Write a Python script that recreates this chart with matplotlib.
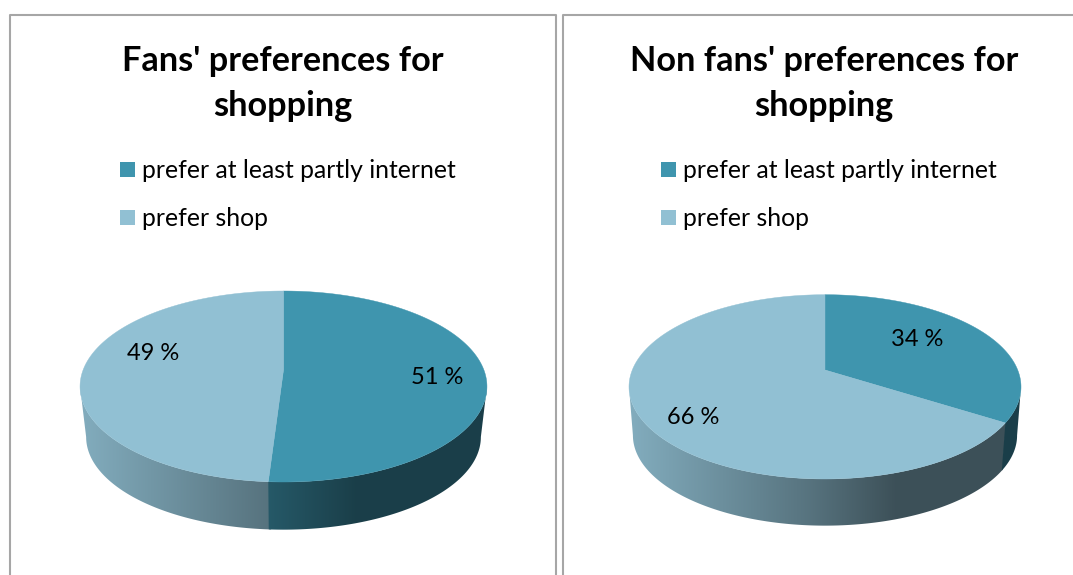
import numpy as np
import matplotlib
matplotlib.use("Agg")
import matplotlib.pyplot as plt
from matplotlib.patches import Polygon, Rectangle

categories = ["prefer at least partly internet", "prefer shop"]
fans_share = [51, 49]
non_fans_share = [34, 66]
fans_title = "Fans' preferences for\nshopping"
non_fans_title = "Non fans' preferences for\nshopping"

DARK = "#3f95ae"
LIGHT = "#91c0d3"
FONT = "Lato"


def disc_point(theta, pie):
    # circle seen in perspective, theta runs clockwise from the far edge
    u, v = np.sin(theta), np.cos(theta)
    w = 1 + pie["k"] * v
    return pie["cx"] + pie["ax"] * u / w, pie["hub_y"] - pie["ay"] * v / w


def wall_point(theta, pie):
    x, y = disc_point(theta, pie)
    s = pie["shrink"]
    return pie["cx"] + (x - pie["cx"]) * s, pie["mid_y"] + (y - pie["mid_y"]) * s + pie["drop"]


def wall_gradient(hex_color):
    # side of the cylinder darkens from left to right
    t = np.linspace(0, 1, 400)
    f = np.interp(t, [0, 0.46, 0.68, 1], [0.9, 0.6, 0.42, 0.42])
    return (np.array(matplotlib.colors.to_rgb(hex_color)) * f[:, None])[None, :, :]


def draw_wall(ax, a0, a1, col, pie):
    # only the front of the side is visible, between the two widest points of the disc
    tangent = np.arccos(-pie["k"])
    a0, a1 = max(a0, tangent), min(a1, 2 * np.pi - tangent)
    thetas = np.linspace(a0, a1, 300)
    xs, ys = disc_point(thetas, pie)
    bx, by = wall_point(thetas, pie)
    outline = Polygon(list(zip(xs, ys)) + list(zip(bx[::-1], by[::-1])), closed=True,
                      facecolor="none", edgecolor="none", transform=ax.transData)
    ax.add_patch(outline)
    im = ax.imshow(wall_gradient(col), extent=(pie["cx"] - pie["rx"], pie["cx"] + pie["rx"], 575, 0),
                   aspect="auto", interpolation="bilinear", zorder=2)
    im.set_clip_path(outline)


def draw_pie(ax, shares, pie):
    edges = np.cumsum([0] + shares) / 100 * 2 * np.pi
    # light wall runs a little under the dark one so no seam shows
    draw_wall(ax, edges[1] - 0.01, edges[2], LIGHT, pie)
    draw_wall(ax, edges[0], edges[1], DARK, pie)
    for a0, a1, col in zip(edges[:-1], edges[1:], [DARK, LIGHT]):
        thetas = np.linspace(a0, a1, 200)
        xs, ys = disc_point(thetas, pie)
        pts = [(pie["cx"], pie["hub_y"])] + list(zip(xs, ys))
        ax.add_patch(Polygon(pts, closed=True, facecolor=col, edgecolor=col, linewidth=0.3, zorder=3))


def draw_panel(ax, title, shares, title_x, legend_x, pie, label_pos):
    ax.text(title_x, 83.5, title, ha="center", va="center", fontsize=24.7, fontweight="bold",
            family=FONT, color="black", linespacing=1.52)
    for name, col, y in zip(categories, [DARK, LIGHT], [162, 210]):
        ax.add_patch(Rectangle((legend_x, y), 14.5, 15, facecolor=col, edgecolor="none"))
        ax.text(legend_x + 22, y + 8, name, ha="left", va="center", fontsize=17.8, family=FONT, color="black")
    draw_pie(ax, shares, pie)
    for value, (x, y) in zip(shares, label_pos):
        ax.text(x, y, f"{value} %", ha="center", va="center", fontsize=17, family=FONT, color="black", zorder=4)


fig = plt.figure(figsize=(10.73, 5.75), dpi=100)
ax = fig.add_axes([0, 0, 1, 1])

# panel frames run off the bottom of the figure
frame = "#a6a6a6"
ax.plot([10, 10, 556, 556], [575, 15, 15, 575], color=frame, lw=1.5)
ax.plot([563, 563, 1073], [575, 15, 15], color=frame, lw=1.5)

left_pie = dict(cx=283.5, rx=203.5, ax=200.4, ay=92.65, k=0.1728, hub_y=370, mid_y=387, shrink=0.97, drop=50.5)
right_pie = dict(cx=825, rx=196, ax=192.7, ay=89.06, k=0.1828, hub_y=370, mid_y=387, shrink=0.98, drop=48.5)

draw_panel(ax, fans_title, fans_share, 283, 120, left_pie, [(437, 377), (153, 353)])
draw_panel(ax, non_fans_title, non_fans_share, 824, 661, right_pie, [(917, 339), (693, 417)])

ax.set_xlim(0, 1073)
ax.set_ylim(575, 0)
ax.axis("off")

fig.savefig("out.png", dpi=100)
plt.close(fig)
